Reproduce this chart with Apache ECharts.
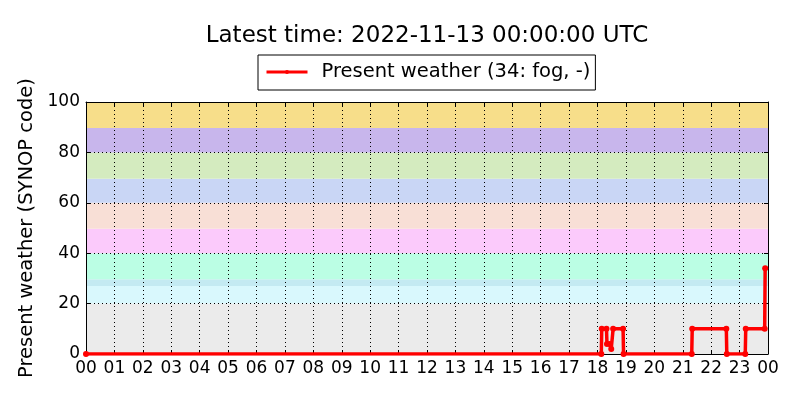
<!DOCTYPE html>
<html>
<head>
<meta charset="utf-8">
<script src="https://cdn.jsdelivr.net/npm/echarts@6/dist/echarts.min.js"></script>
<style>
  html, body { margin: 0; padding: 0; background: #fff; }
  #chart { width: 800px; height: 400px; }
</style>
</head>
<body>
<div id="chart"></div>
<script>
// observation times (UTC) and present weather code
var times = ['00:00','18:08','18:09','18:19','18:20','18:26','18:29','18:33','18:54','18:55',
             '21:19','21:20','22:32','22:33','23:12','23:13','23:53','23:54'];
var codes = [0,0,10,10,4,4,2,10,10,0,
             0,10,10,0,0,10,10,34];

var xTickLabels = ['00','01','02','03','04','05','06','07','08','09','10','11','12',
                   '13','14','15','16','17','18','19','20','21','22','23','00'];
var yTicks = [0,20,40,60,80,100];

// SYNOP code groups shown as background bands
var bandFrom = [0,20,27,29.7,40,49.7,60,69.5,80,89.7];
var bandTo   = [20,27,29.7,40,49.7,60,69.5,80,89.7,100];
var bandColors = ['#ebebeb','#d9f8fd','#c4eaf2','#bbfee4','#fbcafb','#f8dfd6','#c9d6f5','#d4ebbf','#c8b6ec','#f7de8a'];

var title = 'Latest time: 2022-11-13 00:00:00 UTC';
var seriesName = 'Present weather (34: fog, -)';

function toHour(t){
  var p = t.split(':');
  return parseInt(p[0]) + parseInt(p[1]) / 60;
}

var lineData = [];
for (var i = 0; i < times.length; i++) {
  lineData.push([toHour(times[i]), codes[i]]);
}

var bands = [];
for (var j = 0; j < bandFrom.length; j++) {
  bands.push([{ yAxis: bandFrom[j], itemStyle: { color: bandColors[j] } }, { yAxis: bandTo[j] }]);
}

var font = 'DejaVu Sans';
var chart = echarts.init(document.getElementById('chart'));

var axisCommon = {
  type: 'value',
  z: 2,
  axisLine: { show: true, onZero: false, lineStyle: { color: '#000', width: 1 } },
  axisTick: { show: true, inside: true, length: 4, lineStyle: { color: '#000' } }
};

chart.setOption({
  animation: false,
  backgroundColor: '#fff',
  textStyle: { fontFamily: font },
  title: {
    text: title,
    left: 427,
    textAlign: 'center',
    top: 25,
    padding: 0,
    textStyle: { fontFamily: font, fontSize: 23, fontWeight: 'normal', color: '#000' }
  },
  legend: {
    data: [seriesName],
    left: 258,
    top: 55,
    padding: [7, 5, 8, 7],
    borderColor: '#000',
    borderWidth: 1,
    borderRadius: 0,
    itemWidth: 41,
    itemHeight: 5,
    lineStyle: { width: 3 },
    textStyle: { fontFamily: font, fontSize: 19.5, color: '#000', padding: [0, 0, 0, 9] }
  },
  grid: { left: 86, right: 32, top: 102, bottom: 46 },
  xAxis: [
    Object.assign({}, axisCommon, {
      min: 0, max: 24, interval: 1,
      axisLabel: {
        color: '#000', fontSize: 17, fontFamily: font, margin: 6,
        formatter: function(v){ return xTickLabels[Math.round(v)]; }
      },
      splitLine: { show: true, lineStyle: { color: '#000', type: [1, 3], width: 1 } }
    }),
    Object.assign({}, axisCommon, {
      position: 'top', min: 0, max: 24, interval: 1,
      axisLabel: { show: false }, splitLine: { show: false }
    })
  ],
  yAxis: [
    Object.assign({}, axisCommon, {
      min: 0, max: 100, interval: 20,
      name: 'Present weather (SYNOP code)',
      nameLocation: 'middle',
      nameGap: 45,
      nameTextStyle: { fontFamily: font, fontSize: 19.5, color: '#000' },
      axisLabel: {
        color: '#000', fontSize: 17, fontFamily: font, margin: 6,
        formatter: function(v){ return yTicks.indexOf(v) >= 0 ? String(v) : ''; }
      },
      splitLine: { show: true, lineStyle: { color: '#000', type: [1, 3], width: 1 } }
    }),
    Object.assign({}, axisCommon, {
      position: 'right', min: 0, max: 100, interval: 20,
      axisLabel: { show: false }, splitLine: { show: false }
    })
  ],
  series: [
    {
      // background bands only
      type: 'line',
      z: 0,
      data: [],
      silent: true,
      markArea: { silent: true, z: 0, data: bands }
    },
    {
      name: seriesName,
      type: 'line',
      z: 3,
      data: lineData,
      clip: true,
      symbol: 'circle',
      symbolSize: 6,
      showSymbol: true,
      color: '#ff0000',
      itemStyle: { color: '#ff0000' },
      lineStyle: { color: '#ff0000', width: 3.5 }
    }
  ]
});
</script>
</body>
</html>
